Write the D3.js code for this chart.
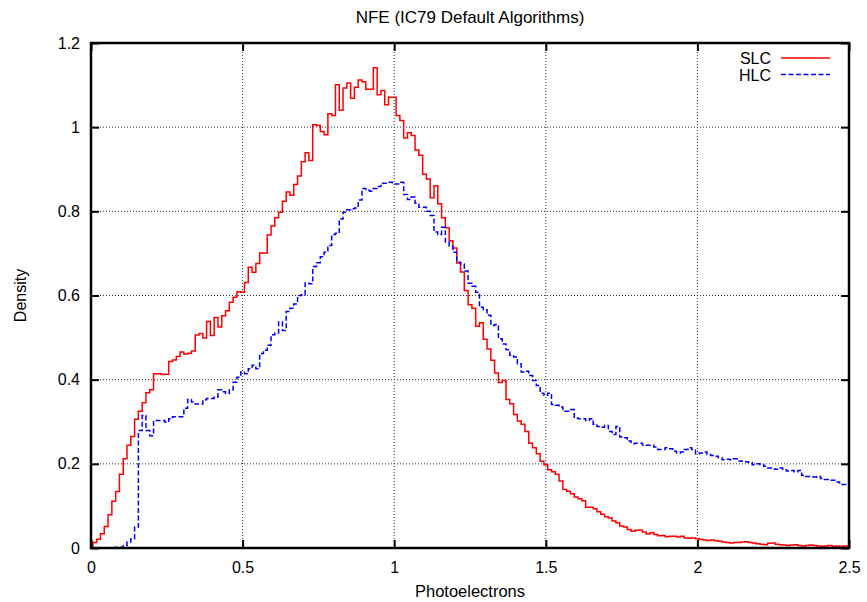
<!DOCTYPE html>
<html>
<head>
<meta charset="utf-8">
<script src="https://cdn.jsdelivr.net/npm/d3@7"></script>
<style>
  body { margin: 0; background: #fff; }
  text { font-family: "Liberation Sans", Arial, Helvetica, sans-serif; fill: #000; }
</style>
</head>
<body>
<svg id="chart"></svg>
<script>
var width = 867;
var height = 602;

// bins are 0.0125 wide, points at 0, 0.0125, ... 2.5
var binWidth = 0.0125;

var slc = [
  0.002,0.013,0.021,0.034,0.051,0.079,0.111,0.134,0.175,0.212,
  0.244,0.265,0.306,0.325,0.345,0.369,0.376,0.414,0.414,0.412,
  0.413,0.443,0.447,0.455,0.466,0.461,0.463,0.468,0.506,0.510,
  0.499,0.538,0.505,0.548,0.525,0.552,0.564,0.584,0.596,0.609,
  0.608,0.631,0.667,0.655,0.676,0.701,0.701,0.744,0.765,0.785,
  0.798,0.824,0.846,0.838,0.864,0.884,0.918,0.939,0.921,1.006,
  1.004,0.990,0.982,1.032,1.028,1.101,1.040,1.093,1.105,1.069,
  1.095,1.112,1.108,1.090,1.090,1.141,1.077,1.087,1.053,1.071,
  1.071,1.028,1.016,0.974,0.987,0.980,0.946,0.933,0.888,0.877,
  0.832,0.861,0.818,0.785,0.761,0.730,0.713,0.677,0.656,0.612,
  0.578,0.570,0.527,0.535,0.496,0.473,0.446,0.416,0.393,0.398,
  0.353,0.343,0.317,0.302,0.294,0.277,0.249,0.238,0.224,0.206,
  0.198,0.186,0.181,0.175,0.159,0.139,0.135,0.129,0.121,0.117,
  0.112,0.097,0.097,0.093,0.086,0.080,0.074,0.071,0.064,0.060,
  0.052,0.050,0.044,0.040,0.042,0.043,0.038,0.033,0.036,0.032,
  0.029,0.030,0.027,0.028,0.028,0.026,0.028,0.024,0.023,0.024,
  0.022,0.020,0.019,0.018,0.019,0.017,0.016,0.014,0.013,0.012,
  0.013,0.013,0.014,0.015,0.013,0.012,0.010,0.009,0.008,0.011,
  0.012,0.009,0.008,0.007,0.006,0.007,0.008,0.006,0.005,0.006,
  0.007,0.006,0.005,0.004,0.005,0.006,0.004,0.005,0.004,0.005,
  0.005
];

var hlc = [
  0,0,0,0,0,0,0,0.002,0.002,0.006,
  0.014,0.022,0.050,0.279,0.315,0.279,0.267,0.303,0.303,0.303,
  0.299,0.307,0.312,0.312,0.312,0.332,0.353,0.347,0.342,0.342,
  0.352,0.355,0.355,0.359,0.376,0.371,0.367,0.376,0.394,0.406,
  0.418,0.414,0.426,0.434,0.426,0.462,0.470,0.482,0.507,0.511,
  0.537,0.517,0.562,0.570,0.580,0.600,0.602,0.630,0.628,0.669,
  0.678,0.692,0.703,0.719,0.745,0.748,0.782,0.798,0.804,0.806,
  0.808,0.827,0.854,0.850,0.848,0.854,0.859,0.867,0.867,0.869,
  0.865,0.865,0.869,0.840,0.828,0.834,0.819,0.810,0.810,0.800,
  0.790,0.751,0.745,0.762,0.727,0.717,0.703,0.679,0.675,0.658,
  0.629,0.622,0.608,0.572,0.566,0.553,0.529,0.531,0.497,0.485,
  0.471,0.458,0.454,0.438,0.418,0.420,0.410,0.398,0.386,0.368,
  0.363,0.368,0.341,0.339,0.335,0.325,0.325,0.329,0.309,0.307,
  0.307,0.303,0.307,0.294,0.289,0.287,0.291,0.277,0.270,0.289,
  0.264,0.262,0.254,0.248,0.249,0.249,0.245,0.244,0.244,0.240,
  0.234,0.234,0.238,0.236,0.230,0.226,0.228,0.234,0.238,0.234,
  0.224,0.226,0.228,0.222,0.220,0.218,0.215,0.210,0.211,0.210,
  0.212,0.207,0.206,0.205,0.203,0.198,0.200,0.198,0.194,0.190,
  0.188,0.187,0.190,0.186,0.183,0.184,0.181,0.184,0.173,0.170,
  0.170,0.169,0.170,0.165,0.163,0.161,0.161,0.157,0.151,0.151,
  0.151
];

var xTicks = [0, 0.5, 1, 1.5, 2, 2.5];
var yTicks = [0, 0.2, 0.4, 0.6, 0.8, 1, 1.2];

var series = [
  { name: "SLC", values: slc, color: "#ff0000", dash: null },
  { name: "HLC", values: hlc, color: "#0000ff", dash: "5,2.5" }
];

var margin = { top: 43, right: 18, bottom: 54, left: 91 };
var plotW = width - margin.left - margin.right;
var plotH = height - margin.top - margin.bottom;

var svg = d3.select("#chart")
    .attr("width", width)
    .attr("height", height);

var g = svg.append("g")
    .attr("transform", "translate(" + margin.left + "," + margin.top + ")");

var x = d3.scaleLinear().domain([0, 2.5]).range([0, plotW]);
var y = d3.scaleLinear().domain([0, 1.2]).range([plotH, 0]);

// grid (dotted), skipping the frame edges
g.append("g").selectAll("line")
    .data(xTicks.slice(1, -1))
    .enter().append("line")
    .attr("x1", d => x(d)).attr("x2", d => x(d))
    .attr("y1", 0).attr("y2", plotH)
    .attr("stroke", "#333").attr("stroke-width", 1)
    .attr("stroke-dasharray", "1,2");

g.append("g").selectAll("line")
    .data(yTicks.slice(1, -1))
    .enter().append("line")
    .attr("x1", 0).attr("x2", plotW)
    .attr("y1", d => y(d)).attr("y2", d => y(d))
    .attr("stroke", "#333").attr("stroke-width", 1)
    .attr("stroke-dasharray", "1,2");

svg.append("clipPath").attr("id", "plotclip")
  .append("rect").attr("width", plotW).attr("height", plotH);

var line = d3.line()
    .x((d, i) => x(i * binWidth))
    .y(d => y(d))
    .curve(d3.curveStep);

g.append("g").attr("clip-path", "url(#plotclip)")
  .selectAll("path")
  .data(series)
  .enter().append("path")
    .attr("d", d => line(d.values))
    .attr("fill", "none")
    .attr("stroke", d => d.color)
    .attr("stroke-width", 1.5)
    .attr("stroke-dasharray", d => d.dash);

// axes with inward ticks on all four sides
var tickLen = 8;
var fmt = d3.format("");

var xAxis = g.append("g")
    .attr("transform", "translate(0," + plotH + ")")
    .call(d3.axisBottom(x).tickValues(xTicks).tickFormat(fmt).tickSizeInner(-tickLen).tickSizeOuter(0).tickPadding(14));
var xAxisTop = g.append("g")
    .call(d3.axisTop(x).tickValues(xTicks).tickFormat("").tickSizeInner(-tickLen).tickSizeOuter(0));
var yAxis = g.append("g")
    .call(d3.axisLeft(y).tickValues(yTicks).tickFormat(fmt).tickSizeInner(-tickLen).tickSizeOuter(0).tickPadding(11));
var yAxisRight = g.append("g")
    .attr("transform", "translate(" + plotW + ",0)")
    .call(d3.axisRight(y).tickValues(yTicks).tickFormat("").tickSizeInner(-tickLen).tickSizeOuter(0));

[xAxis, xAxisTop, yAxis, yAxisRight].forEach(function(a) {
  a.select(".domain").remove();
  a.selectAll(".tick line").attr("stroke", "#000").attr("stroke-width", 2);
  a.selectAll(".tick text").style("font-size", "16px")
    .style("font-family", "'Liberation Sans', Arial, sans-serif");
});

// frame
g.append("rect")
    .attr("width", plotW).attr("height", plotH)
    .attr("fill", "none")
    .attr("stroke", "#000").attr("stroke-width", 2.5);

// titles
svg.append("text")
    .attr("x", margin.left + plotW / 2).attr("y", 23)
    .attr("text-anchor", "middle")
    .style("font-size", "17px")
    .text("NFE (IC79 Default Algorithms)");

svg.append("text")
    .attr("x", margin.left + plotW / 2).attr("y", 597)
    .attr("text-anchor", "middle")
    .style("font-size", "16.5px")
    .text("Photoelectrons");

svg.append("text")
    .attr("transform", "translate(26," + (margin.top + plotH / 2) + ") rotate(-90)")
    .attr("text-anchor", "middle")
    .style("font-size", "16px")
    .text("Density");

// legend
var legend = g.append("g").selectAll("g")
    .data(series)
    .enter().append("g")
    .attr("transform", (d, i) => "translate(0," + (15 + i * 16.5) + ")");

legend.append("text")
    .attr("x", 680).attr("y", 6)
    .attr("text-anchor", "end")
    .style("font-size", "16px")
    .text(d => d.name);

legend.append("line")
    .attr("x1", 690).attr("x2", 739)
    .attr("y1", 0).attr("y2", 0)
    .attr("stroke", d => d.color)
    .attr("stroke-width", 1.5)
    .attr("stroke-dasharray", d => d.dash);
</script>
</body>
</html>
